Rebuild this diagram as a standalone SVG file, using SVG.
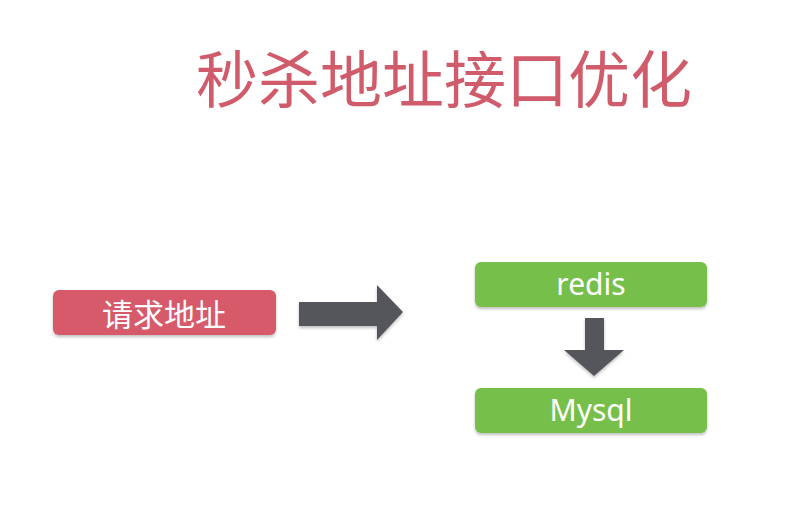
<svg xmlns="http://www.w3.org/2000/svg" width="809" height="505" viewBox="0 0 809 505">
<defs>
<style>
.title{font-family:"Noto Sans CJK SC","Noto Sans",sans-serif;font-size:62px;fill:#d05c6b;}
.lbl{font-family:"Noto Sans","Noto Sans CJK SC",sans-serif;font-size:30px;fill:#ffffff;text-anchor:middle;}
.red{fill:#d65a69;}
.green{fill:#76bf4b;}
.arrow{fill:#55575c;}
</style>
<filter id="sh" x="-10%" y="-20%" width="120%" height="150%">
<feDropShadow dx="0" dy="2" stdDeviation="1.5" flood-color="#000" flood-opacity="0.25"/>
</filter>
</defs>
<rect width="809" height="505" fill="#ffffff"/>
<text class="title" x="196" y="103">秒杀地址接口优化</text>
<g id="node-request">
<rect class="red" x="53" y="290" width="223" height="45" rx="6" filter="url(#sh)"/>
<text class="lbl" x="164" y="326" style="font-family:'Noto Sans CJK SC',sans-serif;font-size:31px">请求地址</text>
</g>
<g id="node-redis">
<rect class="green" x="475" y="262" width="232" height="45" rx="6" filter="url(#sh)"/>
<text class="lbl" x="591" y="295">redis</text>
</g>
<g id="node-mysql">
<rect class="green" x="475" y="388" width="232" height="45" rx="6" filter="url(#sh)"/>
<text class="lbl" x="591" y="421">Mysql</text>
</g>
<g id="connectors">
<polygon class="arrow" filter="url(#sh)" points="299,302 377,302 377,285 403,312 377,340 377,326 299,326"/>
<polygon class="arrow" filter="url(#sh)" points="585,318 604,318 604,350 624,350 594,376 564,350 585,350"/>
</g>
</svg>
